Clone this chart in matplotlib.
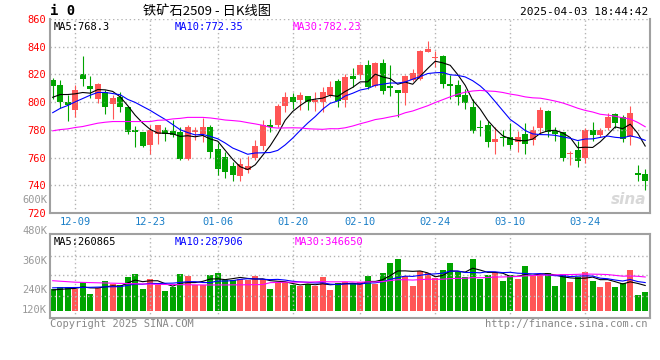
import numpy as np
import pandas as pd
import matplotlib
matplotlib.use('Agg')
import matplotlib.pyplot as plt

W, H = 660, 360

# daily K data, 80 trading days
opens = [815.7, 812.1, 800.2, 794.5, 820.0, 811.4, 802.1, 807.1, 798.8, 803.8,
         796.4, 780.0, 778.6, 768.8, 777.1, 780.0, 779.3, 778.6, 759.3, 778.3,
         776.7, 781.9, 766.4, 760.2, 753.8, 746.7, 751.0, 759.5, 768.1, 783.6,
         783.8, 797.4, 803.6, 801.4, 804.3, 800.0, 800.2, 805.5, 815.0, 801.2,
         818.8, 819.3, 827.1, 811.7, 828.6, 811.4, 808.6, 806.7, 816.2, 816.9,
         836.4, 831.7, 833.1, 813.3, 812.1, 805.5, 796.4, 782.4, 783.6, 771.0,
         775.2, 775.0, 771.0, 777.1, 772.9, 781.0, 793.6, 779.3, 778.3, 762.6,
         765.7, 759.8, 780.0, 776.0, 781.7, 791.4, 789.0, 774.5, 748.6, 747.9]
highs = [817.4, 815.7, 805.0, 812.1, 833.6, 818.6, 813.8, 808.6, 805.0, 807.4,
         797.1, 782.9, 778.6, 783.6, 783.6, 781.9, 787.4, 781.9, 783.6, 781.9,
         788.8, 783.6, 770.5, 763.8, 757.1, 759.8, 761.4, 772.9, 787.1, 787.9,
         799.0, 807.4, 806.9, 807.4, 804.3, 807.4, 811.0, 815.2, 816.9, 820.5,
         825.0, 827.6, 830.7, 828.8, 831.2, 826.9, 808.6, 819.8, 823.6, 837.9,
         844.3, 837.1, 834.3, 819.3, 815.7, 809.8, 802.1, 787.1, 786.4, 781.9,
         780.0, 784.8, 779.3, 784.8, 782.9, 796.7, 794.3, 782.4, 778.8, 764.5,
         771.7, 781.2, 785.5, 781.7, 791.9, 791.9, 790.7, 797.4, 754.3, 751.4]
lows = [802.6, 796.0, 786.7, 789.5, 811.4, 803.1, 799.5, 791.4, 788.1, 793.1,
        776.7, 767.4, 767.9, 762.4, 769.5, 771.7, 774.5, 758.1, 758.1, 772.9,
        771.0, 759.8, 747.4, 745.5, 743.1, 743.1, 749.0, 758.1, 765.7, 778.1,
        782.4, 793.1, 795.0, 794.3, 794.3, 793.8, 793.1, 803.8, 796.7, 796.7,
        811.0, 816.9, 809.8, 811.0, 805.7, 804.5, 789.5, 797.9, 815.2, 815.7,
        836.0, 825.2, 810.2, 802.6, 797.9, 795.0, 777.4, 775.7, 767.4, 762.9,
        768.1, 766.2, 763.8, 762.6, 769.3, 777.6, 774.8, 772.1, 757.4, 754.5,
        753.3, 756.2, 771.7, 775.2, 780.0, 781.2, 771.2, 769.3, 743.1, 736.7]
closes = [811.7, 800.2, 797.6, 808.6, 816.7, 809.3, 813.1, 796.7, 802.9, 796.7,
          778.1, 778.3, 768.6, 780.0, 783.6, 777.1, 776.4, 759.3, 782.4, 779.8,
          781.9, 763.8, 751.4, 749.3, 747.4, 755.0, 753.6, 768.6, 783.6, 781.9,
          797.1, 803.6, 800.2, 805.0, 800.2, 801.9, 807.1, 810.7, 800.7, 818.1,
          816.7, 826.9, 811.0, 828.3, 808.1, 810.5, 806.7, 818.6, 820.7, 837.1,
          838.3, 832.9, 812.9, 811.7, 803.8, 799.3, 779.3, 781.0, 771.0, 773.6,
          773.8, 768.8, 774.8, 769.5, 779.8, 794.3, 778.1, 776.9, 759.8, 763.3,
          757.4, 780.0, 776.0, 780.0, 789.5, 785.2, 773.6, 792.1, 747.6, 743.1]
# volume in thousands of lots
volumes = [220, 241, 247, 224, 292, 173, 234, 305, 278, 264,
           349, 376, 224, 325, 264, 203, 247, 376, 356, 264,
           264, 366, 386, 315, 315, 325, 315, 356, 325, 224,
           292, 292, 264, 254, 271, 254, 342, 214, 281, 295,
           281, 292, 356, 278, 386, 488, 529, 359, 254, 407,
           390, 332, 420, 488, 393, 346, 529, 325, 370, 393,
           305, 366, 329, 458, 356, 373, 386, 254, 376, 295,
           349, 397, 308, 244, 298, 244, 281, 417, 163, 193]

# moving-average values before enough history exists inside the window
ma5_head = [803.5, 805.5, 805.5, 806.0]
ma10_head = [792.4, 795.5, 797.6, 800.2, 802.6, 805.0, 807.0, 807.0, 806.2]
ma30_head = [779.3, 780.2, 780.7, 781.7, 782.4, 783.6, 784.8, 785.5, 786.0, 786.0,
             786.0, 786.0, 786.0, 786.0, 786.9, 787.1, 787.9, 788.3, 789.0, 789.0,
             789.0, 788.6, 787.9, 787.1, 786.7, 786.2, 785.2, 784.3, 783.3]
vma5_head = [214, 220, 226, 230]
vma10_head = [236, 237, 238, 239, 240, 241, 243, 245, 247]
vma30_head = [308, 303, 298, 293, 291, 289, 287, 285, 283, 281,
              279, 277, 275, 273, 271, 270, 269, 268, 267, 266,
              265, 265, 265, 265, 266, 266, 267, 268, 269]

date_idx = [3, 13, 22, 32, 41, 51, 61, 71]
date_labels = ['12-09', '12-23', '01-06', '01-20', '02-10', '02-24', '03-10', '03-24']
price_ticks = [720, 740, 760, 780, 800, 820, 840, 860]
vol_grid = [153, 366, 559]
vol_labels = [('600K', 200), ('480K', 231), ('360K', 261), ('240K', 290), ('120K', 310)]

RED = '#ff5555'
GREEN = '#00a400'
GRID = '#b4b4b4'
BORDER = '#a0a0a0'
MONO = 'DejaVu Sans Mono'


def ma(vals, n, head):
    out = pd.Series(vals, dtype=float).rolling(n).mean().to_numpy()
    out[:n - 1] = head
    return out


x = np.arange(len(closes))
o = np.array(opens)
c = np.array(closes)
up = c >= o
cols = np.where(up, RED, GREEN)

fig = plt.figure(figsize=(W / 100, H / 100), dpi=100)
fig.patch.set_facecolor('white')


def px_axes(l, t, r, b):
    return fig.add_axes([l / W, 1 - b / H, (r - l) / W, (b - t) / H])


ax = px_axes(50, 19, 650, 213)
axv = px_axes(50, 234, 650, 318)

# price panel
ax.vlines(x, lows, highs, colors=cols, lw=0.8)
ax.bar(x, np.maximum(np.abs(c - o), 0.8), bottom=np.minimum(o, c), width=0.8,
       color=cols, lw=0)
ax.plot(x, ma(closes, 5, ma5_head), color='black', lw=0.8)
ax.plot(x, ma(closes, 10, ma10_head), color='#0000ff', lw=0.8)
ax.plot(x, ma(closes, 30, ma30_head), color='#ff00ff', lw=0.8)
ax.set_xlim(-0.36, 79.64)
ax.set_ylim(720, 860)
ax.set_yticks(price_ticks)
ax.set_yticklabels([str(v) for v in price_ticks], color='red', fontsize=7.5, family=MONO)
ax.set_xticks(date_idx)
ax.set_xticklabels(date_labels, color='#1a7fc8', fontsize=7.5, family=MONO)
ax.tick_params(length=0, pad=3)
ax.grid(True, ls=(0, (1, 2)), color=GRID, lw=1)
ax.spines['top'].set_visible(False)
for s in ['left', 'right', 'bottom']:
    ax.spines[s].set_color(BORDER)
    ax.spines[s].set_linewidth(1.5)

ax.text(0.006, 0.985, 'MA5:768.3', transform=ax.transAxes, va='top', ha='left',
        fontsize=7.5, family=MONO, color='black')
ax.text(0.208, 0.985, 'MA10:772.35', transform=ax.transAxes, va='top', ha='left',
        fontsize=7.5, family=MONO, color='#0000ff')
ax.text(0.405, 0.985, 'MA30:782.23', transform=ax.transAxes, va='top', ha='left',
        fontsize=7.5, family=MONO, color='#ff00ff')
ax.text(0.965, 0.07, 'sina', transform=ax.transAxes, ha='center', va='center',
        fontsize=11, fontweight='bold', style='italic', color='#d8d8d8')

# volume panel
axv.bar(x, volumes, width=0.8, color=cols, lw=0)
axv.plot(x, ma(volumes, 5, vma5_head), color='black', lw=0.8)
axv.plot(x, ma(volumes, 10, vma10_head), color='#0000ff', lw=0.8)
axv.plot(x, ma(volumes, 30, vma30_head), color='#ff00ff', lw=0.8)
axv.set_xlim(-0.36, 79.64)
axv.set_ylim(-71, 783)
axv.set_xticks(date_idx)
axv.set_xticklabels([])
axv.set_yticks(vol_grid)
axv.set_yticklabels([])
axv.tick_params(length=0)
axv.grid(True, ls=(0, (1, 2)), color=GRID, lw=1)
for s in axv.spines.values():
    s.set_color(BORDER)
    s.set_linewidth(1.5)
axv.text(0.006, 0.97, 'MA5:260865', transform=axv.transAxes, va='top', ha='left',
         fontsize=7.5, family=MONO, color='black')
axv.text(0.208, 0.97, 'MA10:287906', transform=axv.transAxes, va='top', ha='left',
         fontsize=7.5, family=MONO, color='#0000ff')
axv.text(0.408, 0.97, 'MA30:346650', transform=axv.transAxes, va='top', ha='left',
         fontsize=7.5, family=MONO, color='#ff00ff')

for lab, ypx in vol_labels:
    fig.text(47 / W, 1 - ypx / H, lab, ha='right', va='center', fontsize=7.5,
             family=MONO, color='#999999')

# header
fig.text(50 / W, 1 - 11 / H, 'i 0', ha='left', va='center', fontsize=10,
         fontweight='bold', family=MONO, color='black')
fig.text(207 / W, 1 - 11 / H, '铁矿石2509 - 日K线图', ha='center', va='center',
         fontsize=9.5, family=['Noto Sans CJK SC', 'DejaVu Sans'], color='black')
fig.text(648 / W, 1 - 12 / H, '2025-04-03 18:44:42', ha='right', va='center',
         fontsize=8, family=MONO, color='black')

# footer
fig.text(50 / W, 1 - 324 / H, 'Copyright 2025 SINA.COM', ha='left', va='center',
         fontsize=7.5, family=MONO, color='#888888')
fig.text(648 / W, 1 - 324 / H, 'http://finance.sina.com.cn', ha='right', va='center',
         fontsize=7.5, family=MONO, color='#888888')

fig.savefig('out.png', dpi=100, facecolor='white')
